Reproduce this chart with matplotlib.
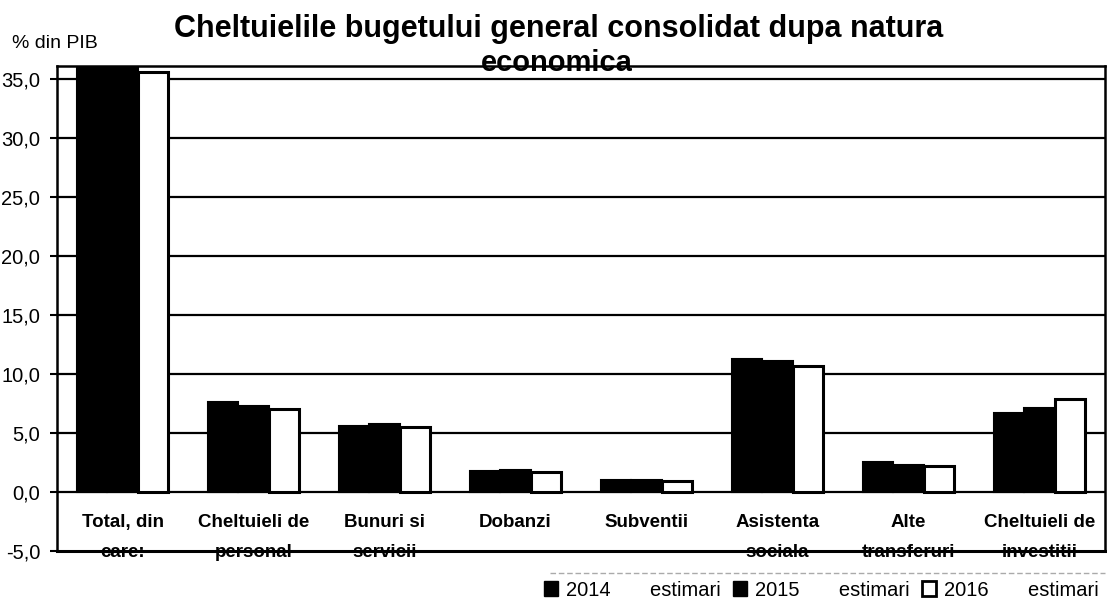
import numpy as np
import matplotlib
matplotlib.use("Agg")
import matplotlib.pyplot as plt
from matplotlib.patches import Patch
from matplotlib.lines import Line2D

plt.rcParams["font.family"] = ["Liberation Sans", "DejaVu Sans"]

# Data (% din PIB)
categories = ["Total, din\ncare:", "Cheltuieli de\npersonal", "Bunuri si\nservicii",
              "Dobanzi", "Subventii", "Asistenta\nsociala", "Alte\ntransferuri",
              "Cheltuieli de\ninvestitii"]
series_names = ["2014", "2015", "2016"]
v2014 = [36.5, 7.6, 5.6, 1.8, 1.0, 11.3, 2.5, 6.7]
v2015 = [36.3, 7.3, 5.8, 1.9, 1.0, 11.1, 2.3, 7.1]
v2016 = [35.6, 7.0, 5.5, 1.7, 0.9, 10.7, 2.2, 7.9]
yticks = [-5, 0, 5, 10, 15, 20, 25, 30, 35]

fig = plt.figure(figsize=(11.07, 6.07), dpi=100)
ax = fig.add_axes([57 / 1107, 1 - 551 / 607, 1048 / 1107, (551 - 66) / 607])

x = np.arange(len(categories))
w = 0.23
ax.bar(x - w, v2014, w, color="black", edgecolor="black", lw=1.5, zorder=3)
ax.bar(x, v2015, w, color="black", edgecolor="black", lw=1.5, zorder=3)
ax.bar(x + w, v2016, w, color="white", edgecolor="black", lw=2.2, zorder=3)

ax.set_xlim(-0.5, len(categories) - 0.5)
ax.set_ylim(-5, 36.1)
ax.set_yticks(yticks)
ax.set_yticklabels([f"{t:.1f}".replace(".", ",") for t in yticks], fontsize=14.5)
ax.set_xticks([])
for t in yticks[1:]:
    ax.axhline(t, color="black", lw=1.6, zorder=2)
for s in ax.spines.values():
    s.set_linewidth(1.8)
ax.spines["bottom"].set_linewidth(2.2)
ax.tick_params(axis="y", length=5, width=1.5, pad=7)

for i, c in enumerate(categories):
    ax.text(i, -1.9, c, ha="center", va="top", fontsize=13.5, fontweight="bold",
            linespacing=1.95, zorder=4)

fig.text(559 / 1107, 1 - 29 / 607, "Cheltuielile bugetului general consolidat dupa natura",
         ha="center", va="center", fontsize=22, fontweight="bold")
fig.text(557 / 1107, 1 - 63 / 607, "economica", ha="center", va="center",
         fontsize=21, fontweight="bold")
fig.text(12 / 1107, 1 - 43 / 607, "% din PIB", ha="left", va="center", fontsize=14)

# legend
handles = [Patch(facecolor="black", edgecolor="black"),
           Patch(facecolor="black", edgecolor="black"),
           Patch(facecolor="white", edgecolor="black", lw=2)]
labels = [n + "       estimari" for n in series_names]
fig.legend(handles, labels, loc="center right", bbox_to_anchor=(1.0, 1 - 590 / 607),
           ncol=3, frameon=False, fontsize=14.5, handlelength=0.7, handleheight=0.7,
           handletextpad=0.4, columnspacing=0.6, borderaxespad=0)
fig.add_artist(Line2D([550 / 1107, 1105 / 1107], [1 - 573 / 607] * 2,
                      color="#aaaaaa", lw=1, ls=(0, (4, 2))))

fig.savefig("out.png", dpi=100)
